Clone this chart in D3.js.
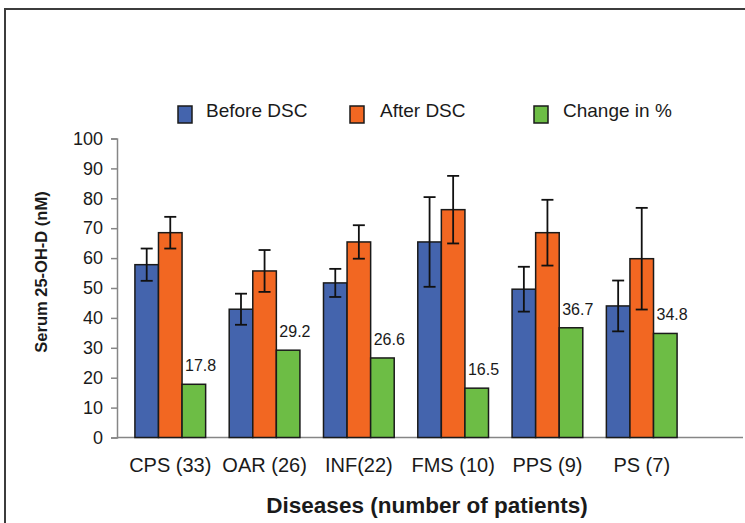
<!DOCTYPE html>
<html>
<head>
<meta charset="utf-8">
<script src="https://cdn.jsdelivr.net/npm/d3@7/dist/d3.min.js"></script>
<style>
  html, body { margin: 0; padding: 0; background: #fff; }
  svg { display: block; font-family: "Liberation Sans", Arial, sans-serif; }
</style>
</head>
<body>
<svg id="chart" width="745" height="523"></svg>
<script>
// chart data
const categories = ["CPS (33)", "OAR (26)", "INF(22)", "FMS (10)", "PPS (9)", "PS (7)"]
const seriesNames = ["Before DSC", "After DSC", "Change in %"]
const beforeDSC = [57.8, 42.9, 51.7, 65.4, 49.6, 44.0]
const afterDSC = [68.5, 55.7, 65.4, 76.2, 68.5, 59.8]
const changePct = [17.8, 29.2, 26.6, 16.5, 36.7, 34.8]
const beforeErr = [5.4, 5.2, 4.7, 15.0, 7.5, 8.5]
const afterErr = [5.3, 7.0, 5.6, 11.3, 11.0, 17.0]
const yTicks = [0, 10, 20, 30, 40, 50, 60, 70, 80, 90, 100]

const colors = ["#4464ad", "#f26722", "#6dbd45"]

const svg = d3.select("#chart")

// frame around the figure (right and bottom edges are cut off)
svg.append("path")
  .attr("d", "M5,523V9H745")
  .attr("fill", "none")
  .attr("stroke", "#3c3c3c")
  .attr("stroke-width", 2)

// scales
const y = d3.scaleLinear().domain([0, 100]).range([437.5, 138.5])
const x0 = d3.scaleBand().domain(categories).range([117, 695])
  .paddingInner(0.25).paddingOuter(0.19)
const x1 = d3.scaleBand().domain(seriesNames).range([0, x0.bandwidth()])

// y axis
const yAxis = svg.append("g")
  .attr("transform", "translate(117,0)")
  .call(d3.axisLeft(y).tickValues(yTicks).tickSize(6).tickPadding(8))
yAxis.select(".domain").attr("stroke", "#868686").attr("stroke-width", 1.5)
yAxis.selectAll(".tick line").attr("stroke", "#868686").attr("stroke-width", 1.5)
yAxis.selectAll(".tick text")
  .attr("font-size", 18)
  .attr("font-family", "Liberation Sans, Arial, sans-serif")
  .attr("fill", "#1a1a1a")

// x axis baseline runs past the last group
svg.append("line")
  .attr("x1", 117).attr("x2", 743)
  .attr("y1", y(0)).attr("y2", y(0))
  .attr("stroke", "#868686")
  .attr("stroke-width", 1.5)

// bars
const rows = categories.map((c, i) => ({
  cat: c,
  vals: [
    { s: seriesNames[0], v: beforeDSC[i], err: beforeErr[i] },
    { s: seriesNames[1], v: afterDSC[i], err: afterErr[i] },
    { s: seriesNames[2], v: changePct[i], err: null, label: changePct[i] }
  ]
}))

const groups = svg.selectAll(".grp")
  .data(rows)
  .enter().append("g")
  .attr("class", "grp")
  .attr("transform", d => `translate(${x0(d.cat)},0)`)

groups.selectAll("rect")
  .data(d => d.vals)
  .enter().append("rect")
  .attr("x", d => x1(d.s))
  .attr("y", d => y(d.v))
  .attr("width", x1.bandwidth())
  .attr("height", d => y(0) - y(d.v))
  .attr("fill", (d, i) => colors[i])
  .attr("stroke", "#1a1a1a")
  .attr("stroke-width", 1.5)

// error bars
const eb = groups.selectAll(".err")
  .data(d => d.vals.filter(v => v.err !== null))
  .enter().append("g")
  .attr("class", "err")
  .attr("transform", d => `translate(${x1(d.s) + x1.bandwidth() / 2},0)`)
eb.append("line")
  .attr("y1", d => y(d.v - d.err)).attr("y2", d => y(d.v + d.err))
eb.append("line")
  .attr("x1", -6).attr("x2", 6)
  .attr("y1", d => y(d.v + d.err)).attr("y2", d => y(d.v + d.err))
eb.append("line")
  .attr("x1", -6).attr("x2", 6)
  .attr("y1", d => y(d.v - d.err)).attr("y2", d => y(d.v - d.err))
eb.selectAll("line").attr("stroke", "#111").attr("stroke-width", 1.8)

// value labels above the green bars
groups.selectAll(".val")
  .data(d => d.vals.filter(v => v.label !== undefined))
  .enter().append("text")
  .attr("class", "val")
  .attr("x", d => x1(d.s) + 3)
  .attr("y", d => y(d.v) - 13)
  .attr("font-size", 16)
  .attr("fill", "#1a1a1a")
  .text(d => d.label.toFixed(1))

// category labels under each group
svg.selectAll(".cat")
  .data(categories)
  .enter().append("text")
  .attr("class", "cat")
  .attr("x", d => x0(d) + x0.bandwidth() / 2)
  .attr("y", 472)
  .attr("text-anchor", "middle")
  .attr("font-size", 20)
  .attr("fill", "#1a1a1a")
  .text(d => d)

// axis titles
svg.append("text")
  .attr("x", 427).attr("y", 513)
  .attr("text-anchor", "middle")
  .attr("font-size", 22.5)
  .attr("font-weight", "bold")
  .attr("fill", "#1a1a1a")
  .text("Diseases (number of patients)")

svg.append("text")
  .attr("transform", "translate(47,272) rotate(-90)")
  .attr("text-anchor", "middle")
  .attr("font-size", 16.5)
  .attr("font-weight", "bold")
  .attr("fill", "#1a1a1a")
  .text("Serum 25-OH-D (nM)")

// legend
const legendX = d3.scaleOrdinal().domain(seriesNames).range([178, 350, 534])
const legendGap = [28, 30, 29]
const lg = svg.selectAll(".lg")
  .data(seriesNames)
  .enter().append("g")
  .attr("class", "lg")
  .attr("transform", d => `translate(${legendX(d)},106)`)
lg.append("rect")
  .attr("width", 14).attr("height", 17)
  .attr("fill", (d, i) => colors[i])
  .attr("stroke", "#1a1a1a")
  .attr("stroke-width", 1.5)
lg.append("text")
  .attr("x", (d, i) => legendGap[i])
  .attr("y", 11)
  .attr("font-size", 19)
  .attr("fill", "#1a1a1a")
  .text(d => d)
</script>
</body>
</html>
